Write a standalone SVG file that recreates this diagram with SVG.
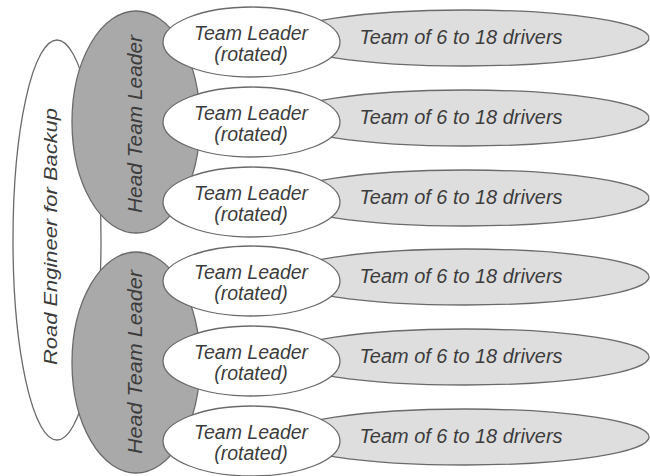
<svg xmlns="http://www.w3.org/2000/svg" width="650" height="476" viewBox="0 0 650 476">
<style>
  text { font-family: "Liberation Sans", Arial, sans-serif; font-style: italic; fill: #3c3c3c; }
  .road { fill: #ffffff; stroke: #6a6a6a; stroke-width: 1.3; }
  .head { fill: #a9a9a9; stroke: #6a6a6a; stroke-width: 1.3; }
  .team { fill: #dedede; stroke: #6a6a6a; stroke-width: 1.3; }
  .lead { fill: #ffffff; stroke: #6a6a6a; stroke-width: 1.3; }
  .t20 { font-size: 20px; text-anchor: middle; }
  .t17 { font-size: 17.5px; text-anchor: middle; }
  .t19 { font-size: 19.5px; text-anchor: middle; }
</style>
<rect width="650" height="476" fill="#ffffff"/>

<g id="road-engineer">
  <ellipse class="road" cx="57" cy="240" rx="44" ry="200"/>
  <text class="t17" transform="translate(57,236.5) rotate(-90)" textLength="257" lengthAdjust="spacingAndGlyphs">Road Engineer for Backup</text>
</g>

<g id="head-team-leader-1">
  <ellipse class="head" cx="136" cy="122" rx="64" ry="111"/>
  <text class="t19" transform="translate(142,124) rotate(-90)" textLength="178" lengthAdjust="spacingAndGlyphs">Head Team Leader</text>
</g>
<g id="head-team-leader-2">
  <ellipse class="head" cx="136" cy="362.5" rx="64" ry="110.5"/>
  <text class="t19" transform="translate(142,362) rotate(-90)" textLength="184" lengthAdjust="spacingAndGlyphs">Head Team Leader</text>
</g>

<g id="team-1">
  <ellipse class="team" cx="465" cy="38" rx="184" ry="28"/>
  <text class="t20" x="461" y="44" textLength="203" lengthAdjust="spacingAndGlyphs">Team of 6 to 18 drivers</text>
</g>
<g id="team-2">
  <ellipse class="team" cx="465" cy="118" rx="184" ry="28"/>
  <text class="t20" x="461" y="124" textLength="203" lengthAdjust="spacingAndGlyphs">Team of 6 to 18 drivers</text>
</g>
<g id="team-3">
  <ellipse class="team" cx="465" cy="198" rx="184" ry="28"/>
  <text class="t20" x="461" y="204" textLength="203" lengthAdjust="spacingAndGlyphs">Team of 6 to 18 drivers</text>
</g>
<g id="team-4">
  <ellipse class="team" cx="465" cy="277" rx="184" ry="28"/>
  <text class="t20" x="461" y="283" textLength="203" lengthAdjust="spacingAndGlyphs">Team of 6 to 18 drivers</text>
</g>
<g id="team-5">
  <ellipse class="team" cx="465" cy="357" rx="184" ry="28"/>
  <text class="t20" x="461" y="363" textLength="203" lengthAdjust="spacingAndGlyphs">Team of 6 to 18 drivers</text>
</g>
<g id="team-6">
  <ellipse class="team" cx="465" cy="437" rx="184" ry="28"/>
  <text class="t20" x="461" y="443" textLength="203" lengthAdjust="spacingAndGlyphs">Team of 6 to 18 drivers</text>
</g>

<g id="team-leader-1">
  <ellipse class="lead" cx="251.5" cy="42" rx="88.5" ry="35"/>
  <text class="t19" x="251" y="40">Team Leader</text>
  <text class="t19" x="251" y="61">(rotated)</text>
</g>
<g id="team-leader-2">
  <ellipse class="lead" cx="251.5" cy="122" rx="88.5" ry="35"/>
  <text class="t19" x="251" y="120">Team Leader</text>
  <text class="t19" x="251" y="141">(rotated)</text>
</g>
<g id="team-leader-3">
  <ellipse class="lead" cx="251.5" cy="202" rx="88.5" ry="35"/>
  <text class="t19" x="251" y="200">Team Leader</text>
  <text class="t19" x="251" y="221">(rotated)</text>
</g>
<g id="team-leader-4">
  <ellipse class="lead" cx="251.5" cy="281" rx="88.5" ry="35"/>
  <text class="t19" x="251" y="279">Team Leader</text>
  <text class="t19" x="251" y="300">(rotated)</text>
</g>
<g id="team-leader-5">
  <ellipse class="lead" cx="251.5" cy="361" rx="88.5" ry="35"/>
  <text class="t19" x="251" y="359">Team Leader</text>
  <text class="t19" x="251" y="380">(rotated)</text>
</g>
<g id="team-leader-6">
  <ellipse class="lead" cx="251.5" cy="441" rx="88.5" ry="35"/>
  <text class="t19" x="251" y="439">Team Leader</text>
  <text class="t19" x="251" y="460">(rotated)</text>
</g>
</svg>
